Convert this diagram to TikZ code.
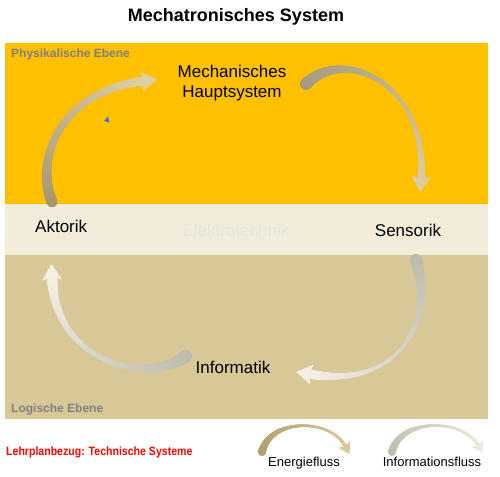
\documentclass[tikz,border=0pt]{standalone}
\usepackage{fontspec}
\setmainfont{Liberation Sans}
\newfontfamily\narrowsans[FakeStretch=0.88]{Liberation Sans}
\usetikzlibrary{decorations.markings}
\definecolor{orangeband}{HTML}{FFC000}
\definecolor{creamband}{HTML}{F2ECDB}
\definecolor{tanband}{HTML}{D8C898}
\definecolor{labelgray}{HTML}{808080}
\definecolor{faintgray}{HTML}{E8E5DE}
\definecolor{lehrred}{HTML}{FF0000}
\definecolor{bluemark}{HTML}{4472C4}
\definecolor{enA}{HTML}{A6966E}
\definecolor{enB}{HTML}{DDD0A4}
\definecolor{enC}{HTML}{A49A7E}
\definecolor{enD}{HTML}{DCCCA0}
\definecolor{inA}{HTML}{BCBAAC}
\definecolor{inB}{HTML}{F3EFE2}
\definecolor{legA}{HTML}{B09E70}
\definecolor{legB}{HTML}{D9C89B}
\definecolor{legC}{HTML}{BDBCB2}
\definecolor{legD}{HTML}{EEEAD8}
\tikzset{
  flowarrow/.style n args={6}{
    postaction={decorate,
      decoration={markings,
        mark=between positions 0 and 1 step 0.4pt with {%
          \pgfmathsetmacro\fr{\pgfkeysvalueof{/pgf/decoration/mark info/distance from start}/\pgfdecoratedpathlength}%
          \pgfmathtruncatemacro\pc{100*(1-\fr)}%
          \pgfmathsetmacro\rr{#3*2*(\fr-0.5)*(\fr-1)-#4*4*\fr*(\fr-1)+#5*2*\fr*(\fr-0.5)}%
          \colorlet{flowcol}{#1!\pc!#2}%
          \fill[flowcol] (0pt,0pt) circle[radius=\rr pt];
        }}},
    postaction={decorate,
      decoration={markings,
        mark=at position 0.995 with {%
          \fill[#2, scale=#6] (14pt,0pt) -- (-2pt,10pt) -- (1pt,0pt) -- (-2pt,-10pt) -- cycle;
        }}}
  },
  mainlabel/.style={font=\fontsize{17}{20}\selectfont, text=black, inner sep=0pt, align=center},
  levellabel/.style={font=\fontsize{12}{14}\selectfont\bfseries, text=labelgray, inner sep=0pt, anchor=west},
  legendlabel/.style={font=\fontsize{13}{15}\selectfont, text=black, inner sep=0pt}
}
\begin{document}
\begin{tikzpicture}[x=1pt,y=-1pt]
\useasboundingbox (0,0) rectangle (500,476);
\fill[white] (0,0) rectangle (500,476);
% bands
\fill[orangeband] (5,43) rectangle (488,204);
\fill[creamband] (5,204) rectangle (488,255);
\fill[tanband] (5,255) rectangle (488,419);

% coordinates for arrows
\coordinate (a1s) at (52,202);
\coordinate (a1e) at (144,81);
\coordinate (a2s) at (306,84);
\coordinate (a2e) at (421,179);
\coordinate (a3s) at (416,260);
\coordinate (a3e) at (309,374);
\coordinate (a4s) at (186,356);
\coordinate (a4e) at (52,277);
\coordinate (l1s) at (262,452);
\coordinate (l1e) at (345,446);
\coordinate (l2s) at (392,452);
\coordinate (l2e) at (478,445);

% flow arrows
\path[flowarrow={enA}{enB}{5.5}{3.5}{4.5}{1}] (a1s) .. controls (35,160) and (58,92) .. (a1e);
\path[flowarrow={enC}{enD}{6}{2}{4}{1}] (a2s) .. controls (345,45) and (428,85) .. (a2e);
\path[flowarrow={inA}{inB}{6}{1.8}{5}{1}] (a3s) .. controls (435,320) and (400,390) .. (a3e);
\path[flowarrow={inA}{inB}{6}{2.5}{5.5}{1}] (a4s) .. controls (150,385) and (55,365) .. (a4e);

% legend arrows
\path[flowarrow={legA}{legB}{4}{1.5}{2}{0.7}] (l1s) .. controls (270,418) and (330,418) .. (l1e);
\path[flowarrow={legC}{legD}{4}{1.5}{2}{0.7}] (l2s) .. controls (400,418) and (462,418) .. (l2e);

% small blue marker
\fill[bluemark] (104,121) -- (108,116.5) -- (109.5,122.5) -- cycle;

% texts
\node[font=\fontsize{18}{20}\selectfont\bfseries, inner sep=0pt] (title) at (236,17) {Mechatronisches System};
\node[levellabel] (phys) at (11,54) {Physikalische Ebene};
\node[levellabel] (logi) at (11,409) {Logische Ebene};
\node[mainlabel] (mech) at (232,83) {Mechanisches\\Hauptsystem};
\node[mainlabel, anchor=west] (akt) at (35,226) {Aktorik};
\node[mainlabel, text=faintgray] (elek) at (236,230) {Elektrotechnik};
\node[mainlabel] (sens) at (408,230) {Sensorik};
\node[mainlabel] (info) at (233,367) {Informatik};
\node[font=\fontsize{12}{14}\selectfont\narrowsans\bfseries, text=lehrred, inner sep=0pt, anchor=west] (lehr) at (6,452) {Lehrplanbezug: Technische Systeme};
\node[legendlabel] (energ) at (304,463) {Energiefluss};
\node[legendlabel] (infl) at (432,462) {Informationsfluss};
\end{tikzpicture}
\end{document}
